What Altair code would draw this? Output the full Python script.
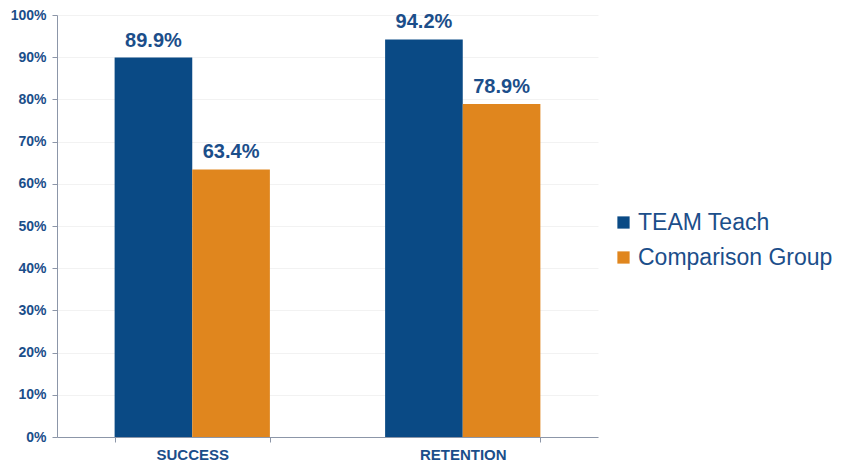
import altair as alt
import pandas as pd

categories = ["SUCCESS", "SUCCESS", "RETENTION", "RETENTION"]
groups = ["TEAM Teach", "Comparison Group", "TEAM Teach", "Comparison Group"]
values = [0.899, 0.634, 0.942, 0.789]
labels = ["89.9%", "63.4%", "94.2%", "78.9%"]

df = pd.DataFrame({"cat": categories, "group": groups, "value": values, "label": labels})

FONT = "Liberation Sans"
TXT = "#1B4E8A"
group_order = ["TEAM Teach", "Comparison Group"]

x = alt.X("cat:N", sort=["SUCCESS", "RETENTION"], title=None,
          scale=alt.Scale(paddingInner=0.426, paddingOuter=0.213),
          axis=alt.Axis(labelAngle=0, labelFont=FONT, labelFontSize=15, labelFontWeight="bold",
                        labelColor=TXT, domainColor="#8C96A8", tickColor="#8C96A8",
                        tickBand="extent", tickSize=5, labelPadding=5, grid=False))
xo = alt.XOffset("group:N", sort=group_order)
y = alt.Y("value:Q", title=None,
          scale=alt.Scale(domain=[0, 1], nice=False),
          axis=alt.Axis(format=".0%", values=[i / 10 for i in range(11)], labelFont=FONT,
                        labelFontSize=14, labelFontWeight="bold", labelColor=TXT,
                        domainColor="#8C96A8", tickColor="#8C96A8", tickSize=5,
                        gridColor="#F2F2F2", labelPadding=6))

bars = alt.Chart(df).mark_bar().encode(
    x=x, xOffset=xo, y=y,
    color=alt.Color("group:N", sort=group_order,
                    scale=alt.Scale(domain=group_order, range=["#0A4A85", "#E0861E"]),
                    legend=alt.Legend(title=None, orient="none", legendX=555, legendY=196,
                                      symbolType="square", symbolSize=150, symbolStrokeWidth=0,
                                      labelFont=FONT, labelFontSize=23, labelColor=TXT,
                                      labelLimit=400, rowPadding=11, labelOffset=3)),
)

text = alt.Chart(df).mark_text(dy=-7, baseline="bottom", font=FONT, fontSize=20,
                               fontWeight="bold", color=TXT).encode(
    x=x, xOffset=xo, y=y, text="label:N")

chart = (bars + text).properties(
    width=541, height=422,
    padding={"left": 49, "top": 7, "right": 238, "bottom": 26},
    autosize=alt.AutoSizeParams(type="none"),
).configure_view(stroke=None).configure_scale(bandPaddingInner=0)

chart.save("out.html", embed_options={"renderer": "svg", "actions": False})
